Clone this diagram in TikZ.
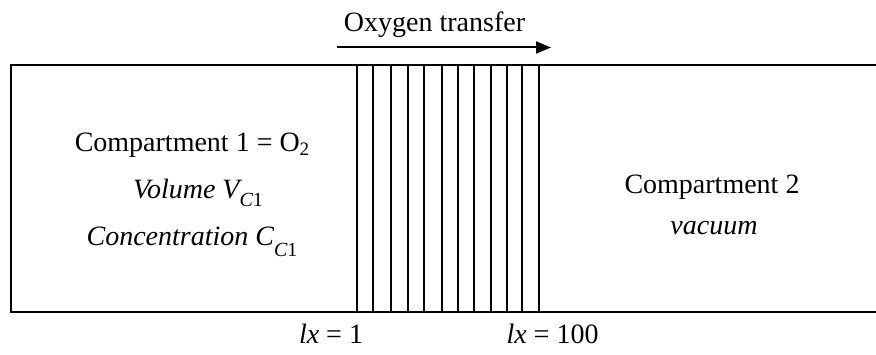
\documentclass[tikz,border=0pt]{standalone}
\usepackage{fontspec}
\setmainfont{Liberation Serif}
\usetikzlibrary{arrows.meta}
\begin{document}
\begin{tikzpicture}[x=1pt,y=-1pt,
  wall/.style={line width=2pt},
  layer/.style={line width=1.5pt},
  edgelayer/.style={line width=2pt},
  lbl/.style={inner sep=0pt,anchor=base,font=\fontsize{28}{32}\selectfont},
  flow/.style={line width=2pt,-{Triangle[length=15pt,width=12pt]}}]
\useasboundingbox (0,0) rectangle (876,355);
% compartment outline (open on the right)
\coordinate (tr) at (877,65);
\coordinate (tl) at (11,65);
\coordinate (bl) at (11,312);
\coordinate (br) at (877,312);
\draw[wall] (tr) -- (tl) -- (bl) -- (br);
% membrane layers
\foreach \xx [count=\i] in {357,373,391,408,424,442,458,474,491,507,522,539}{
  \coordinate (t\i) at (\xx,65);
  \coordinate (b\i) at (\xx,312);
}
\foreach \i in {2,...,11}{ \draw[layer] (t\i) -- (b\i); }
\draw[edgelayer] (t1) -- (b1);
\draw[edgelayer] (t12) -- (b12);
% oxygen transfer arrow
\node[lbl] (ox) at (434.5,32) {Oxygen transfer};
\coordinate (as) at (337,47.5);
\coordinate (ae) at (551,47.5);
\draw[flow] (as) -- (ae);
% compartment 1
\node[lbl] (c1) at (192,152) {Compartment 1 = O\raisebox{-0.3ex}{\fontsize{19}{21}\selectfont 2}};
\node[lbl] (v1) at (198,199) {\itshape Volume V\raisebox{-0.55ex}{\fontsize{20}{22}\selectfont\itshape C\upshape 1}};
\node[lbl] (cc1) at (192,246) {\itshape Concentration C\raisebox{-0.8ex}{\fontsize{20}{22}\selectfont\itshape C\upshape 1}};
% compartment 2
\node[lbl] (c2) at (712,194) {Compartment 2};
\node[lbl] (vac) at (714,235) {\itshape vacuum};
% position labels
\node[lbl] (lx1) at (331,344) {\itshape lx\upshape\ = 1};
\node[lbl] (lx100) at (552.5,344) {\itshape lx\upshape\ = 100};
\end{tikzpicture}
\end{document}
